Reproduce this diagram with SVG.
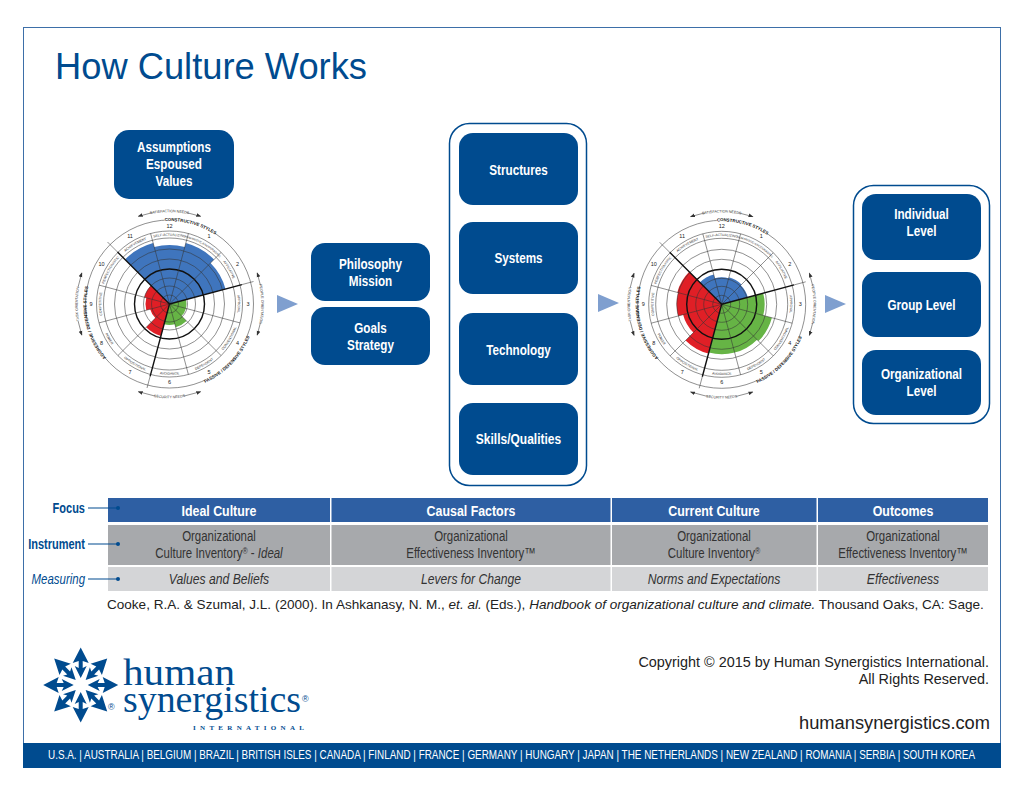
<svg xmlns="http://www.w3.org/2000/svg" width="1024" height="791" viewBox="0 0 1024 791">
<style>
text{font-family:"Liberation Sans",Arial,sans-serif}
.box{fill:#004b8f}
.bt{font-weight:700;font-size:15px;fill:#fff;text-anchor:middle}
.wrap{fill:#fff;stroke:#004b8f;stroke-width:1.5}
.ar{fill:#7f9fcf}
.hd{font-weight:700;font-size:15.5px;fill:#fff;text-anchor:middle}
.cell{font-size:14.5px;fill:#333;text-anchor:middle}
.lab{font-size:14.5px;fill:#004b8f;text-anchor:end}
.ln{stroke:#004b8f;stroke-width:1.2;fill:none}
.th{fill:none;stroke:#333;stroke-width:.55}
.bd{fill:none;stroke:#111;stroke-width:1.4}
.gap{fill:none;stroke:#fff;stroke-width:6}
.sl{font-size:3.4px;fill:#333;text-anchor:middle}
.nm{font-size:5.5px;fill:#222;text-anchor:middle}
.ol{font-size:3.6px;fill:#333;text-anchor:middle}
.st{font-size:4.4px;font-weight:700;fill:#111;text-anchor:middle}
.ow{fill:none;stroke:#333;stroke-width:.55;marker-start:url(#ah);marker-end:url(#ah)}
.blue{fill:#3f75bd}.red{fill:#e01f26}.green{fill:#66b445}
</style>
<defs>
<marker id="ah" viewBox="0 0 6 6" refX="5" refY="3" markerWidth="5" markerHeight="5" markerUnits="userSpaceOnUse" orient="auto-start-reverse"><path d="M0 .8L6 3L0 5.200z" fill="#333"/></marker>
<path id="cw68" d="M0 68.300A68.300 68.300 0 1 1 0-68.300A68.300 68.300 0 1 1 0 68.300"/>
<path id="cc71" d="M0-70.800A70.800 70.800 0 1 0 0 70.800A70.800 70.800 0 1 0 0-70.800"/>
<path id="cw84" d="M0 83A83 83 0 1 1 0-83A83 83 0 1 1 0 83"/>
<path id="cc87" d="M0-86.500A86.500 86.500 0 1 0 0 86.500A86.500 86.500 0 1 0 0-86.500"/>
<path id="cw92" d="M0 91.800A91.800 91.800 0 1 1 0-91.800A91.800 91.800 0 1 1 0 91.800"/>
<path id="cc95" d="M0-94.300A94.300 94.300 0 1 0 0 94.300A94.300 94.300 0 1 0 0-94.300"/>
<g id="grid">
<circle class="th" r="9"/><circle class="th" r="18"/><circle class="th" r="26"/><circle class="bd" r="35"/><circle class="th" r="45"/><circle class="th" r="55"/><circle class="th" r="66"/><circle class="th" r="73"/><circle class="th" r="84"/>
<path class="th" d="M0 0L-18.900-70.500M0 0L18.900-70.500M0 0L51.600-51.600M0 0L70.500 18.900M0 0L51.600 51.600M0 0L18.900 70.500M0 0L-51.600 51.600M0 0L-70.500 18.900M0 0L-70.500-18.900"/>
<path class="bd" d="M0 0L-52-52M0 0L72.400-19.400M0 0L-19.400 72.400"/>
<path class="th" d="M-52-52L-62-62M72.400-19.400L84-22.500M-19.400 72.400L-22.500 84"/>
<text class="sl"><textPath href="#cw68" startOffset="50%">SELF-ACTUALIZING</textPath></text>
<text class="sl" style="font-size:2.900px"><textPath href="#cw68" startOffset="58.330%">HUMANISTIC-ENCOURAGING</textPath></text>
<text class="sl"><textPath href="#cw68" startOffset="66.670%">AFFILIATIVE</textPath></text>
<text class="sl"><textPath href="#cw68" startOffset="75%">APPROVAL</textPath></text>
<text class="sl"><textPath href="#cc71" startOffset="66.670%">CONVENTIONAL</textPath></text>
<text class="sl"><textPath href="#cc71" startOffset="58.330%">DEPENDENT</textPath></text>
<text class="sl"><textPath href="#cc71" startOffset="50%">AVOIDANCE</textPath></text>
<text class="sl"><textPath href="#cc71" startOffset="41.670%">OPPOSITIONAL</textPath></text>
<text class="sl"><textPath href="#cc71" startOffset="33.330%">POWER</textPath></text>
<text class="sl"><textPath href="#cw68" startOffset="25%">COMPETITIVE</textPath></text>
<text class="sl"><textPath href="#cw68" startOffset="33.330%">PERFECTIONISTIC</textPath></text>
<text class="sl"><textPath href="#cw68" startOffset="41.670%">ACHIEVEMENT</textPath></text>
<text class="nm" x="0" y="-76">12</text><text class="nm" x="39.500" y="-66">1</text><text class="nm" x="68" y="-38">2</text><text class="nm" x="78.500" y="2">3</text><text class="nm" x="68" y="41">4</text><text class="nm" x="39.500" y="70">5</text><text class="nm" x="0" y="80">6</text><text class="nm" x="-39.500" y="70">7</text><text class="nm" x="-68" y="41">8</text><text class="nm" x="-78.500" y="2">9</text><text class="nm" x="-68" y="-38">10</text><text class="nm" x="-39.500" y="-66">11</text>
<path class="ow" d="M-31-87.700A93 93 0 0 1 31-87.700"/>
<path class="ow" d="M87.700-31A93 93 0 0 1 87.700 31"/>
<path class="ow" d="M31 87.700A93 93 0 0 1-31 87.700"/>
<path class="ow" d="M-87.700 31A93 93 0 0 1-87.700-31"/>
<path class="gap" d="M-17-91.400A93 93 0 0 1 17-91.400M91.400-19A93 93 0 0 1 91.400 19M14 91.900A93 93 0 0 1-14 91.900M-91.400 17A93 93 0 0 1-91.400-17"/>
<path class="gap" d="M-5-84.900A85 85 0 0 1 46-71.500M78 33A85 85 0 0 1 36 77M-66 53A85 85 0 0 1-84 15" stroke-width="7"/>
<text class="ol"><textPath href="#cw92" startOffset="50%">SATISFACTION NEEDS</textPath></text>
<text class="ol"><textPath href="#cw92" startOffset="75%">PEOPLE ORIENTATION</textPath></text>
<text class="ol"><textPath href="#cc95" startOffset="50%">SECURITY NEEDS</textPath></text>
<text class="ol"><textPath href="#cw92" startOffset="25%">TASK ORIENTATION</textPath></text>
<text class="st"><textPath href="#cw84" startOffset="54.170%">CONSTRUCTIVE STYLES</textPath></text>
<text class="st"><textPath href="#cc87" startOffset="62.800%">PASSIVE / DEFENSIVE STYLES</textPath></text>
<text class="st"><textPath href="#cw84" startOffset="21.100%">AGGRESSIVE / DEFENSIVE STYLES</textPath></text>
</g>
<polygon id="la" fill="#004b8f" points="0,-37.500 8,-22 2,-24 2,-17 6,-19 0,-7 -6,-19 -2,-17 -2,-24 -8,-22"/>
</defs>

<rect id="frame" x="23.500" y="27.500" width="977" height="740" fill="#fff" stroke="#3d6fa8" stroke-width="1"/>
<text id="title" x="55" y="79" font-size="36.300" fill="#004b8f">How Culture Works</text>

<g id="connectors">
<polygon class="ar" points="277,295 298,304 277,313"/>
<polygon class="ar" points="598,294 619,303 598,312"/>
<polygon class="ar" points="825,295 846,304 825,313"/>
<path class="ln" d="M88 508H108M88 544H108M88 579H108"/>
</g>

<g id="node-assumptions"><rect class="box" x="114" y="130" width="120" height="69" rx="15"/><text class="bt" transform="translate(174 152) scale(.78 1)">Assumptions</text><text class="bt" transform="translate(174 169) scale(.78 1)">Espoused</text><text class="bt" transform="translate(174 186) scale(.78 1)">Values</text></g>

<g id="node-circumplex-ideal" transform="translate(169.500 304)">
<path class="blue" d="M0 0L-44.500-44.500A63 63 0 0 1-16.300-60.900L-15.300-57A59 59 0 0 1 15.300-57L16.300-60.900A63 63 0 0 1 44.500-44.500L41-41A58 58 0 0 1 56-15Z"/>
<path class="red" d="M0 0L-8.500 31.900A33 33 0 0 1-23.300 23.300L-14.100 14.100A20 20 0 0 1-19.300 5.200L-23.200 6.200A24 24 0 0 1-23.200-6.200L-25.100-6.700A26 26 0 0 1-18.400-18.400Z"/>
<path class="green" d="M0 0L16.400-4.400A17 17 0 0 1 16.400 4.400A17 17 0 0 1 12 12L17 17A24 24 0 0 1 6.200 23.200L5.400 20.300A21 21 0 0 1-5.400 20.300Z"/>
<use href="#grid"/>
</g>

<g id="node-philosophy"><rect class="box" x="311" y="243" width="119" height="58" rx="14"/><text class="bt" transform="translate(370.500 269) scale(.78 1)">Philosophy</text><text class="bt" transform="translate(370.500 286) scale(.78 1)">Mission</text></g>
<g id="node-goals"><rect class="box" x="311" y="307" width="119" height="58" rx="14"/><text class="bt" transform="translate(370.500 333) scale(.78 1)">Goals</text><text class="bt" transform="translate(370.500 350) scale(.78 1)">Strategy</text></g>

<g id="node-causal-group"><rect class="wrap" x="449.500" y="123.500" width="137" height="362" rx="20"/></g>
<g id="node-structures"><rect class="box" x="459" y="133" width="119" height="72" rx="14"/><text class="bt" transform="translate(518.500 175) scale(.78 1)">Structures</text></g>
<g id="node-systems"><rect class="box" x="459" y="222" width="119" height="72" rx="14"/><text class="bt" transform="translate(518.500 263) scale(.78 1)">Systems</text></g>
<g id="node-technology"><rect class="box" x="459" y="313" width="119" height="72" rx="14"/><text class="bt" transform="translate(518.500 355) scale(.78 1)">Technology</text></g>
<g id="node-skills"><rect class="box" x="459" y="403" width="119" height="72" rx="14"/><text class="bt" transform="translate(518.500 444) scale(.8 1)">Skills/Qualities</text></g>

<g id="node-circumplex-current" transform="translate(721.700 304.300)">
<path class="blue" d="M0 0L-21.900-21.900A31 31 0 0 1-8-29.900L-7-26.100A27 27 0 0 1 7-26.100L7.200-27A28 28 0 0 1 19.800-19.800L19.100-19.100A27 27 0 0 1 26.100-7Z"/>
<path class="green" d="M0 0L41.500-11.100A43 43 0 0 1 41.500 11.100L50.200 13.500A52 52 0 0 1 36.800 36.800L35.400 35.400A50 50 0 0 1-12.900 48.300Z"/>
<path class="red" d="M0 0L-13.200 49.300A51 51 0 0 1-36.100 36.100L-28.300 28.300A40 40 0 0 1-38.600 10.400L-43.500 11.600A45 45 0 0 1-43.500-11.600L-44.400-11.900A46 46 0 0 1-32.500-32.500Z"/>
<use href="#grid"/>
</g>

<g id="node-outcomes-group"><rect class="wrap" x="853.500" y="185.500" width="136" height="238" rx="20"/></g>
<g id="node-individual"><rect class="box" x="862" y="194" width="119" height="66" rx="14"/><text class="bt" transform="translate(921.500 219) scale(.78 1)">Individual</text><text class="bt" transform="translate(921.500 236) scale(.78 1)">Level</text></g>
<g id="node-group"><rect class="box" x="862" y="272" width="119" height="65" rx="14"/><text class="bt" transform="translate(921.500 310) scale(.78 1)">Group Level</text></g>
<g id="node-organizational"><rect class="box" x="862" y="350" width="119" height="65" rx="14"/><text class="bt" transform="translate(921.500 379) scale(.78 1)">Organizational</text><text class="bt" transform="translate(921.500 396) scale(.78 1)">Level</text></g>

<g id="table">
<rect x="108" y="498" width="222" height="24" fill="#2e5fa3"/><rect x="331.500" y="498" width="279" height="24" fill="#2e5fa3"/><rect x="612" y="498" width="204.500" height="24" fill="#2e5fa3"/><rect x="818" y="498" width="170" height="24" fill="#2e5fa3"/>
<rect x="108" y="525" width="222" height="40" fill="#a7a9ac"/><rect x="331.500" y="525" width="279" height="40" fill="#a7a9ac"/><rect x="612" y="525" width="204.500" height="40" fill="#a7a9ac"/><rect x="818" y="525" width="170" height="40" fill="#a7a9ac"/>
<rect x="108" y="567" width="222" height="24" fill="#d4d5d7"/><rect x="331.500" y="567" width="279" height="24" fill="#d4d5d7"/><rect x="612" y="567" width="204.500" height="24" fill="#d4d5d7"/><rect x="818" y="567" width="170" height="24" fill="#d4d5d7"/>
<path class="ln" d="M108 508H119M108 544H119M108 579H119"/><circle cx="118" cy="508" r="2" fill="#004b8f"/><circle cx="118" cy="544" r="2" fill="#004b8f"/><circle cx="118" cy="579" r="2" fill="#004b8f"/>
<text class="hd" transform="translate(219 516) scale(.8 1)">Ideal Culture</text><text class="hd" transform="translate(471 516) scale(.8 1)">Causal Factors</text><text class="hd" transform="translate(714 516) scale(.8 1)">Current Culture</text><text class="hd" transform="translate(903 516) scale(.8 1)">Outcomes</text>
<text class="cell" transform="translate(219 541) scale(.79 1)">Organizational</text><text class="cell" transform="translate(219 558) scale(.79 1)">Culture Inventory<tspan font-size="9" dy="-4">®</tspan><tspan dy="4"> - </tspan><tspan font-style="italic">Ideal</tspan></text>
<text class="cell" transform="translate(471 541) scale(.79 1)">Organizational</text><text class="cell" transform="translate(471 558) scale(.79 1)">Effectiveness Inventory™</text>
<text class="cell" transform="translate(714 541) scale(.79 1)">Organizational</text><text class="cell" transform="translate(714 558) scale(.79 1)">Culture Inventory<tspan font-size="9" dy="-4">®</tspan></text>
<text class="cell" transform="translate(903 541) scale(.79 1)">Organizational</text><text class="cell" transform="translate(903 558) scale(.79 1)">Effectiveness Inventory™</text>
<text class="cell" font-style="italic" transform="translate(219 584) scale(.84 1)">Values and Beliefs</text><text class="cell" font-style="italic" transform="translate(471 584) scale(.84 1)">Levers for Change</text><text class="cell" font-style="italic" transform="translate(714 584) scale(.84 1)">Norms and Expectations</text><text class="cell" font-style="italic" transform="translate(903 584) scale(.84 1)">Effectiveness</text>
<text class="lab" font-weight="700" transform="translate(85 513) scale(.76 1)">Focus</text><text class="lab" font-weight="700" transform="translate(85 549) scale(.76 1)">Instrument</text><text class="lab" font-style="italic" transform="translate(85 584) scale(.79 1)">Measuring</text>
</g>
<text id="citation" x="107" y="609" font-size="13.550" fill="#222">Cooke, R.A. &amp; Szumal, J.L. (2000). In Ashkanasy, N. M., <tspan font-style="italic">et. al.</tspan> (Eds.), <tspan font-style="italic">Handbook of organizational culture and climate.</tspan> Thousand Oaks, CA: Sage.</text>

<g id="logo">
<g transform="translate(80.700 685)"><use href="#la"/><use href="#la" transform="rotate(45)"/><use href="#la" transform="rotate(90)"/><use href="#la" transform="rotate(135)"/><use href="#la" transform="rotate(180)"/><use href="#la" transform="rotate(225)"/><use href="#la" transform="rotate(270)"/><use href="#la" transform="rotate(315)"/></g>
<text x="123" y="685" style="font-family:'Liberation Serif',serif" font-size="38" fill="#004b8f" textLength="112" lengthAdjust="spacingAndGlyphs">human</text>
<text x="123" y="712" style="font-family:'Liberation Serif',serif" font-size="38" fill="#004b8f" textLength="178" lengthAdjust="spacingAndGlyphs">synergistics</text>
<text x="302" y="702" font-size="9" fill="#004b8f">®</text>
<text x="108" y="710" font-size="9" fill="#004b8f">®</text>
<text x="193" y="730" style="font-family:'Liberation Serif',serif;font-weight:700" font-size="7" fill="#004b8f" textLength="111">INTERNATIONAL</text>
</g>
<text id="copy1" x="989" y="667" font-size="14.400" fill="#222" text-anchor="end">Copyright © 2015 by Human Synergistics International.</text>
<text id="copy2" x="989" y="684" font-size="14.400" fill="#222" text-anchor="end">All Rights Reserved.</text>
<text id="web" x="990" y="729" font-size="18.300" fill="#222" text-anchor="end">humansynergistics.com</text>
<rect id="band" x="23" y="743" width="978" height="25" fill="#004b8f"/>
<text id="countries" x="48" y="759" font-size="13" fill="#fff" textLength="927" lengthAdjust="spacingAndGlyphs">U.S.A. | AUSTRALIA | BELGIUM | BRAZIL | BRITISH ISLES | CANADA | FINLAND | FRANCE | GERMANY | HUNGARY | JAPAN | THE NETHERLANDS | NEW ZEALAND | ROMANIA | SERBIA | SOUTH KOREA</text>
</svg>
